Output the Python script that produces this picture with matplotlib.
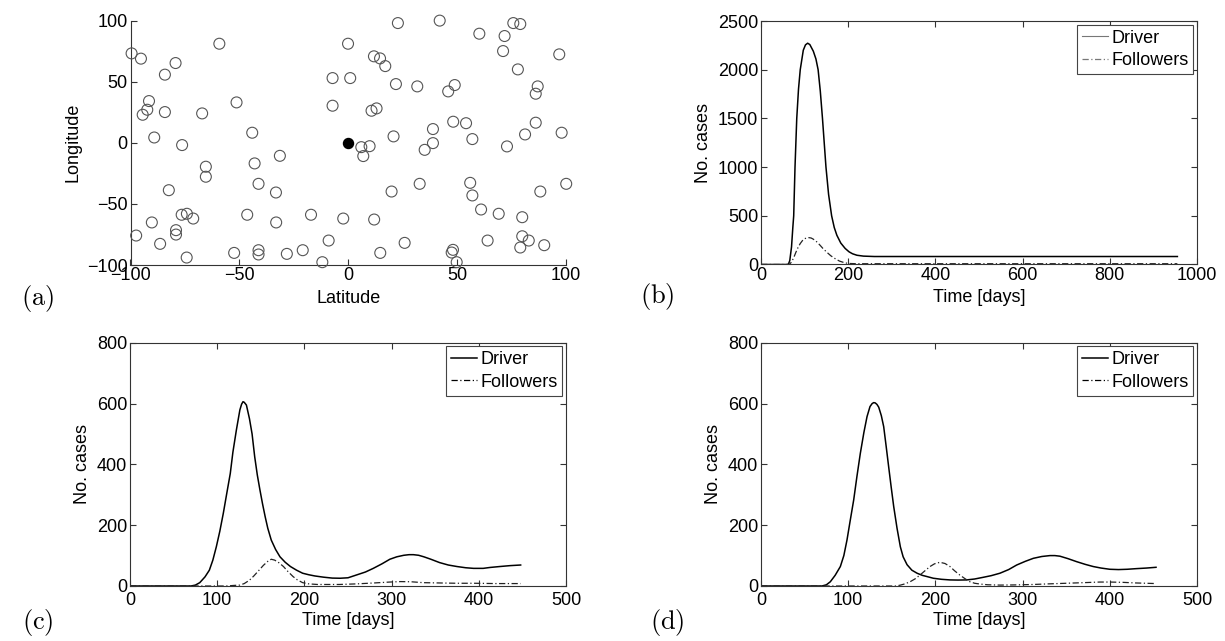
import matplotlib
matplotlib.use("Agg")
import matplotlib.pyplot as plt
from matplotlib.lines import Line2D

plt.rcParams['font.family'] = ['Liberation Sans', 'DejaVu Sans']
plt.rcParams['mathtext.fontset'] = 'cm'

# ---------------- Panel (a): node locations ----------------
follower_lat = [-99.5, -95.2, -84.2, -79.3, -59.2, -7.2, 0.9, -0.1, -7.2, -91.5,
                -92.3, -94.4, -84.2, -67.1, -51.3, -44.1, -89.1, -76.3, -65.4, -65.4,
                -43.0, -31.4, -41.2, -33.2, -82.4, -76.5, -74.1, -71.2, -90.2, -97.4,
                -79.1, -79.1, -86.4, -74.2, -46.4, -33.1, -52.4, -41.2, -41.2, -28.2,
                -20.9, -17.1, -11.9, -9.0, -2.3, 6.0, 9.8, 6.9, 20.8, 38.9,
                35.1, 57.0, 72.9, 81.2, 98.0, 19.9, 32.8, 56.0, 57.0, 61.0,
                69.1, 79.9, 88.2, 100.1, 11.9, 25.9, 14.7, 48.1, 47.5, 49.8,
                64.0, 79.9, 82.9, 79.0, 90.0, 22.8, 42.0, 60.2, 75.8, 79.0,
                71.8, 71.1, 96.9, 77.9, 11.8, 14.6, 17.0, 21.9, 31.7, 48.9,
                45.9, 87.0, 86.1, 10.7, 13.0, 48.2, 54.1, 86.1, 38.9]
follower_lon = [73.1, 68.8, 55.7, 65.2, 81.0, 52.9, 52.9, 81.0, 30.3, 34.1,
                27.0, 22.9, 25.1, 24.0, 33.0, 8.2, 4.3, -1.9, -19.6, -27.8,
                -16.9, -10.7, -33.6, -40.7, -38.8, -58.9, -58.1, -62.0, -65.2, -75.9,
                -71.5, -75.1, -82.7, -93.9, -58.9, -65.2, -90.1, -87.9, -91.4, -90.9,
                -87.9, -58.9, -97.7, -80.0, -62.0, -3.6, -2.8, -10.9, 5.2, -0.3,
                -5.8, 3.0, -3.0, 6.8, 8.2, -39.9, -33.6, -32.8, -43.1, -54.6,
                -58.1, -60.9, -39.9, -33.6, -62.8, -81.9, -90.1, -87.6, -89.8, -97.7,
                -80.0, -76.5, -80.0, -85.7, -83.8, 97.9, 99.9, 89.2, 97.9, 97.1,
                87.3, 75.0, 72.3, 60.0, 70.7, 69.0, 62.7, 48.0, 46.1, 47.2,
                42.0, 46.1, 40.1, 26.2, 28.1, 17.2, 16.0, 16.4, 11.2]
driver_lat = [0.0]
driver_lon = [0.0]

# ---------------- Panel (b) ----------------
b_driver_t = [0, 60, 63, 66, 70, 73, 75, 78, 82, 86, 90, 97, 102, 107, 112, 120, 126, 131,
              136, 141, 145, 149, 155, 162, 168, 174, 183, 193, 202, 210, 220, 235, 260, 955]
b_driver_v = [0, 0, 5, 40, 180, 380, 500, 1000, 1500, 1800, 2000, 2200, 2255, 2272, 2258,
              2190, 2110, 2000, 1780, 1500, 1250, 1000, 720, 500, 380, 300, 220, 165, 130,
              110, 95, 86, 82, 82]
b_follow_t = [0, 62, 66, 70, 75, 80, 85, 90, 95, 100, 108, 115, 120, 128, 135, 142, 150,
              160, 170, 180, 193, 205, 220, 955]
b_follow_v = [0, 0, 5, 25, 70, 125, 175, 215, 245, 265, 277, 272, 260, 232, 200, 165, 130,
              90, 60, 35, 16, 10, 8, 8]

# ---------------- Panel (c) ----------------
c_driver_t = [0, 70, 75, 80, 86, 91, 95, 99, 103, 107, 111, 115, 118, 122, 126, 128, 129.6,
              131, 133.5, 137, 140, 143, 146, 149, 152, 155, 158, 162, 167, 172, 178, 184, 191,
              198, 205, 212, 222, 232, 241, 250, 260, 270, 279, 289, 298, 306, 314, 320,
              325, 331, 337, 345, 355, 365, 375, 385, 394, 405, 413, 424, 436, 448]
c_driver_v = [0, 0, 3, 11, 30, 52, 85, 129, 180, 239, 305, 370, 440, 513, 579, 598, 606,
              604, 595, 550, 500, 425, 365, 316, 270, 228, 190, 151, 120, 96, 78, 64, 52,
              42, 37, 33, 29, 26, 25.5, 27, 36.5, 46, 58, 73, 88, 96, 101, 103,
              103, 101, 96, 88, 77, 69, 64, 60, 58, 58, 61, 64, 67, 69]
c_follow_t = [0, 110, 120, 126, 131, 137, 142, 148, 153, 158, 162, 166, 171, 176, 181,
              187, 192, 198, 205, 215, 222, 240, 260, 280, 298, 310, 322, 336, 355, 375,
              395, 420, 448]
c_follow_v = [0, 0, 2, 3, 8, 19, 33, 52, 68, 81, 88, 85, 76, 64, 48, 31, 20, 11, 7, 5,
              5, 5, 7, 10, 13, 14.5, 14, 11, 10, 9, 9, 8, 8]

# ---------------- Panel (d) ----------------
d_driver_t = [0, 70, 75, 79.5, 85, 91, 95, 98.6, 102, 106.3, 110, 113.9, 118, 121.6,
              125, 127.5, 129.3, 131, 133, 135, 138, 140.7, 143.5, 146.4, 149.3, 152.2, 156,
              159.8, 163, 167.5, 173, 179, 185, 190.4, 197.6, 207, 216.7, 226, 235.8, 245,
              254.9, 264, 274, 284, 293.2, 303, 312.3, 322, 331.4, 337, 342.8, 352, 362, 372,
              381, 390, 400, 410, 420, 430, 442, 453]
d_driver_v = [0, 0, 4, 14, 35, 64, 100, 151, 210, 283, 360, 436, 505, 557, 590, 600, 603,
              602, 597, 588, 560, 524, 460, 392, 325, 261, 190, 129, 96, 70, 52, 42, 35, 31,
              25.5, 22, 20, 19.5, 20, 23, 28.6, 34, 42, 54, 69, 81, 91, 97, 100, 100,
              98, 90, 80, 71, 64, 59, 55, 54, 55, 57, 59, 61.5]
d_follow_t = [0, 155, 160, 165, 171, 177, 182.3, 188, 193.8, 199, 205.2, 211, 216.7,
              222, 228, 234, 239.6, 245, 251, 260, 274, 290, 312, 330, 350, 370, 388.6,
              400, 415, 430, 453]
d_follow_v = [0, 0, 3, 7, 14, 24, 36, 50, 64, 73, 78, 74, 64, 50, 36, 24, 14, 9, 6.5,
              4, 3, 3.5, 5, 7, 9, 11, 13, 13, 12, 10, 8]

b_xticks = [0, 200, 400, 600, 800, 1000]
b_yticks = [0, 500, 1000, 1500, 2000, 2500]
cd_xticks = [0, 100, 200, 300, 400, 500]
cd_yticks = [0, 200, 400, 600, 800]
a_ticks = [-100, -50, 0, 50, 100]
legend_labels = ['Driver', 'Followers']
panel_tags = ['(a)', '(b)', '(c)', '(d)']

# ---------------- Figure ----------------
W, H = 1225, 641
fig = plt.figure(figsize=(W / 100, H / 100), dpi=100)


def add_ax(l, r, t, b):
    return fig.add_axes([l / W, 1 - b / H, (r - l) / W, (b - t) / H])


FS = 13
SPINE = '#333333'


def style(ax, full=True, xpad=1.5):
    for s in ax.spines.values():
        s.set_color(SPINE)
        s.set_linewidth(0.8)
    if full:
        ax.tick_params(direction='in', length=4, width=0.8, color=SPINE,
                       top=True, right=True, labelsize=FS, pad=2)
    else:
        ax.spines['top'].set_visible(False)
        ax.spines['right'].set_visible(False)
        ax.tick_params(direction='in', length=4, width=0.8, color=SPINE,
                       top=False, right=False, labelsize=FS, pad=2)
    ax.tick_params(axis='x', pad=xpad)


# (a)
axa = add_ax(130.5, 566, 20.5, 265)
axa.scatter(follower_lat, follower_lon, s=62, facecolors='none',
            edgecolors='#555555', linewidths=0.8, clip_on=False, zorder=3)
axa.scatter(driver_lat, driver_lon, s=52, color='black', clip_on=False, zorder=4)
axa.set_xlim(-100, 100)
axa.set_ylim(-100, 100)
axa.set_xticks(a_ticks)
axa.set_yticks(a_ticks)
style(axa, full=False)
axa.set_xlabel('Latitude', fontsize=FS, labelpad=4.5)
axa.set_ylabel('Longitude', fontsize=FS, labelpad=4)


def curve_panel(ax, t1, v1, t2, v2, xt, yt, xpad, xlabelpad,
                handle_color='black', handle_lw=1.1):
    ax.plot(t1, v1, color='black', lw=1.1, solid_joinstyle='round')
    ax.plot(t2, v2, color='#222222', lw=0.9, linestyle=(0, (5, 2, 1, 2)))
    ax.set_xlim(xt[0], xt[-1])
    ax.set_ylim(yt[0], yt[-1])
    ax.set_xticks(xt)
    ax.set_yticks(yt)
    style(ax, xpad=xpad)
    ax.set_xlabel('Time [days]', fontsize=FS, labelpad=xlabelpad)
    ax.set_ylabel('No. cases', fontsize=FS, labelpad=4)
    handles = [Line2D([], [], color=handle_color, lw=handle_lw),
               Line2D([], [], color=handle_color, lw=0.9, linestyle=(0, (5, 2, 1, 2)))]
    leg = ax.legend(handles, legend_labels, loc='upper right', fontsize=FS,
                    fancybox=False, framealpha=1, edgecolor='#444444',
                    handlelength=1.45, handletextpad=0.15, borderpad=0.28,
                    labelspacing=0.3, borderaxespad=0.2)
    leg.get_frame().set_linewidth(0.8)


axb = add_ax(761, 1197, 21, 264.5)
curve_panel(axb, b_driver_t, b_driver_v, b_follow_t, b_follow_v, b_xticks, b_yticks,
            xpad=1.5, xlabelpad=3.6, handle_color='#777777', handle_lw=0.8)

axc = add_ax(130, 566, 342.7, 586)
curve_panel(axc, c_driver_t, c_driver_v, c_follow_t, c_follow_v, cd_xticks, cd_yticks,
            xpad=4.2, xlabelpad=2.5)

axd = add_ax(761, 1197, 342.7, 586)
curve_panel(axd, d_driver_t, d_driver_v, d_follow_t, d_follow_v, cd_xticks, cd_yticks,
            xpad=4.2, xlabelpad=2.5)

tag_pos = [(38, 298), (657, 296), (38, 622), (667, 622)]
for tag, (x, y) in zip(panel_tags, tag_pos):
    fig.text(x / W, 1 - y / H, r'$\mathrm{' + tag + '}$', fontsize=19,
             ha='center', va='center')

fig.savefig('out.png', dpi=100)
